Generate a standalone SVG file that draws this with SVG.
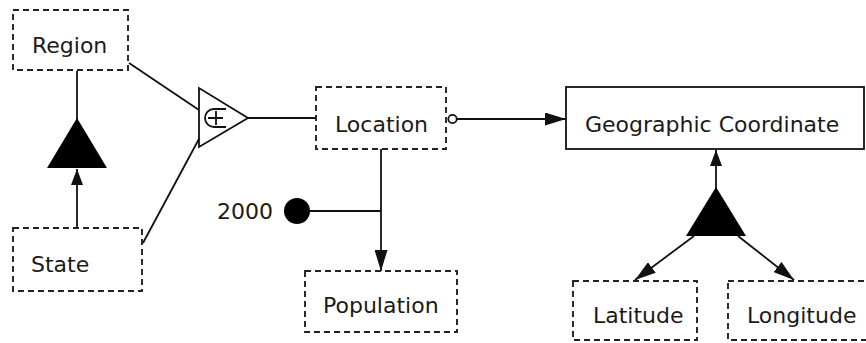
<svg xmlns="http://www.w3.org/2000/svg" width="866" height="343" viewBox="0 0 866 343">
<style>
.dash{fill:#fff;stroke:#222;stroke-width:1.9;stroke-dasharray:6 4}
.solid{fill:#fff;stroke:#111;stroke-width:1.8}
.ln{fill:none;stroke:#111;stroke-width:1.8}
text{font-family:"DejaVu Sans",sans-serif;font-size:22px;fill:#1a1a1a}
</style>
<defs>
<marker id="arr" markerUnits="userSpaceOnUse" markerWidth="21" markerHeight="13" refX="21" refY="6.5" orient="auto">
<path d="M0,0 L21,6.5 L0,13 z" fill="#111"/>
</marker>
<marker id="arrs" markerUnits="userSpaceOnUse" markerWidth="16" markerHeight="12" refX="16" refY="6" orient="auto">
<path d="M0,0 L16,6 L0,12 z" fill="#111"/>
</marker>
</defs>
<g id="connectors">
<line class="ln" x1="77" y1="71" x2="77" y2="120"/>
<line class="ln" x1="77" y1="228" x2="77" y2="169" marker-end="url(#arrs)"/>
<line class="ln" x1="129" y1="63" x2="199" y2="110"/>
<line class="ln" x1="143" y1="243" x2="200" y2="137"/>
<line class="ln" x1="248" y1="118" x2="316" y2="118"/>
<line class="ln" x1="457" y1="119" x2="566" y2="119" marker-end="url(#arr)"/>
<line class="ln" x1="381" y1="149" x2="381" y2="271" marker-end="url(#arr)"/>
<line class="ln" x1="297" y1="211" x2="381" y2="211"/>
<line class="ln" x1="716" y1="190" x2="716" y2="150" marker-end="url(#arrs)"/>
<line class="ln" x1="694" y1="236" x2="635" y2="280" marker-end="url(#arr)"/>
<line class="ln" x1="738" y1="236" x2="794" y2="280" marker-end="url(#arr)"/>
</g>
<g id="subtype1"><polygon points="77,118 47,168 107,168" fill="#000"/></g>
<g id="subtype2"><polygon points="716,187 686,236 746,236" fill="#000"/></g>
<g id="union">
<polygon points="199,88 199,147 248,118" class="solid"/>
<path d="M226,109 H214 A9,9 0 0 0 214,127 H226" class="ln"/>
<path d="M208,118 H223 M216,111 V125" class="ln"/>
</g>
<g id="region"><rect x="13" y="10" width="115" height="60" class="dash"/><text x="32" y="53">Region</text></g>
<g id="state"><rect x="13" y="228" width="129" height="63" class="dash"/><text x="31" y="272">State</text></g>
<g id="location"><rect x="316" y="87" width="130" height="62" class="dash"/><text x="335" y="132">Location</text>
<circle cx="452.5" cy="119" r="4.2" fill="#fff" stroke="#111" stroke-width="1.8"/></g>
<g id="geo"><rect x="566" y="87" width="298" height="62" class="solid"/><text x="585" y="132">Geographic Coordinate</text></g>
<g id="year"><circle cx="297" cy="211" r="13" fill="#000"/><text x="217" y="219">2000</text></g>
<g id="population"><rect x="305" y="271" width="152" height="61" class="dash"/><text x="323" y="313">Population</text></g>
<g id="latitude"><rect x="573" y="281" width="124" height="59" class="dash"/><text x="593" y="323">Latitude</text></g>
<g id="longitude"><rect x="728" y="281" width="140" height="59" class="dash"/><text x="747" y="323">Longitude</text></g>
</svg>
